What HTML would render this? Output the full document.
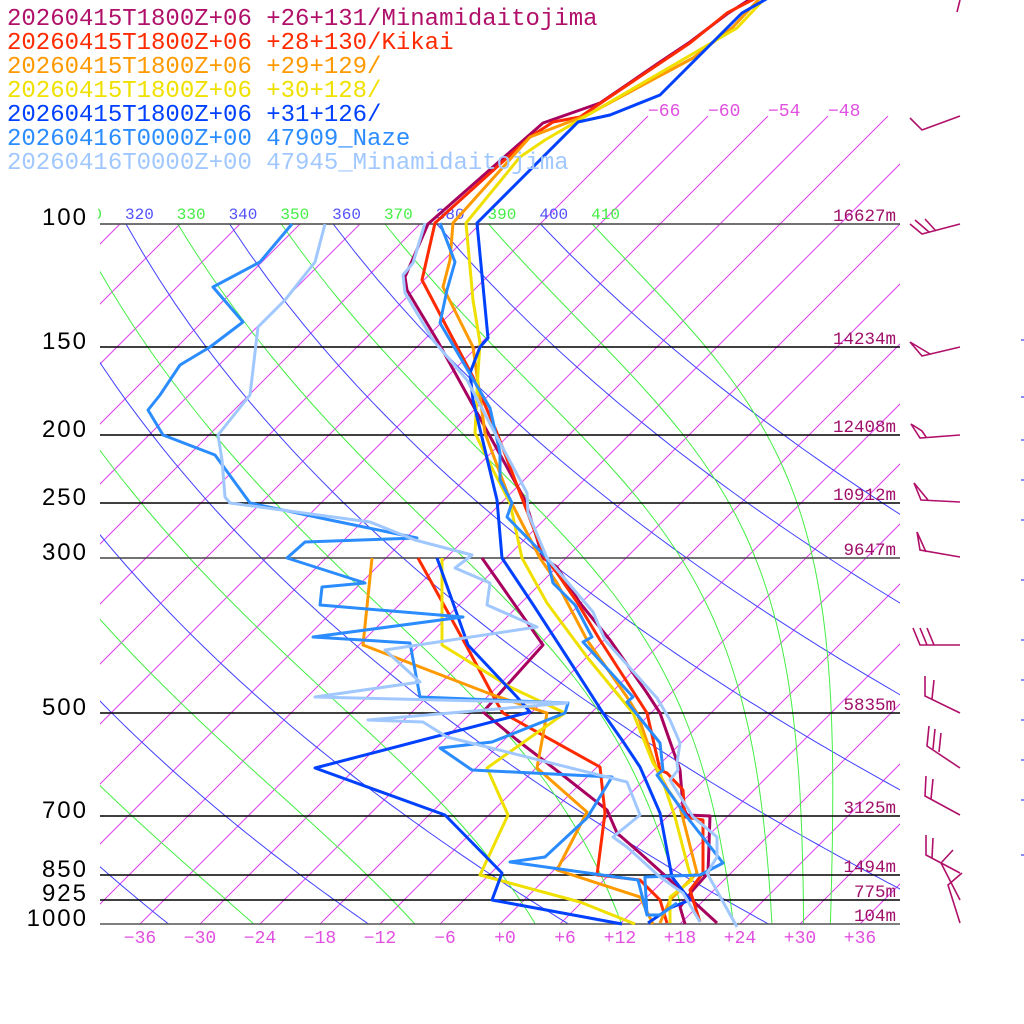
<!DOCTYPE html>
<html><head><meta charset="utf-8"><style>
html,body{margin:0;padding:0;background:#fff;}
svg{display:block;}
.lg{font-family:"Liberation Mono",monospace;font-size:24px;}
.pl{font-family:"Liberation Sans",sans-serif;font-size:24px;fill:#000;letter-spacing:2px;}
.hl{font-family:"Liberation Mono",monospace;font-size:17.5px;fill:#a0106a;}
.tl{font-family:"Liberation Mono",monospace;font-size:18px;fill:#e050e0;}
.th{font-family:"Liberation Mono",monospace;font-size:16px;}
</style></head><body>
<svg id="s" width="1024" height="1024" viewBox="0 0 1024 1024" xmlns="http://www.w3.org/2000/svg">
<defs>
<clipPath id="ca"><rect x="100" y="224" width="800" height="700"/></clipPath>
<clipPath id="ci"><rect x="100" y="116" width="800" height="808"/></clipPath>
<clipPath id="ct"><rect x="98" y="190" width="802" height="40"/></clipPath>
</defs>
<rect width="1024" height="1024" fill="#fff"/>
<g id="iso" clip-path="url(#ci)" stroke="#e040f0" stroke-width="1" fill="none"></g>
<g id="dry" clip-path="url(#ca)" stroke="#4040ff" stroke-width="1" fill="none"></g>
<g id="moist" clip-path="url(#ca)" stroke="#44ee44" stroke-width="1" fill="none"></g>
<g stroke="#000" stroke-width="1.5">
<line x1="100" y1="224" x2="900" y2="224" stroke="#444"/>
<line x1="100" y1="347" x2="900" y2="347"/>
<line x1="100" y1="435" x2="900" y2="435"/>
<line x1="100" y1="503" x2="900" y2="503"/>
<line x1="100" y1="558" x2="900" y2="558" stroke="#444"/>
<line x1="100" y1="713" x2="900" y2="713"/>
<line x1="100" y1="816" x2="900" y2="816"/>
<line x1="100" y1="875" x2="900" y2="875"/>
<line x1="100" y1="900" x2="900" y2="900"/>
<line x1="100" y1="924" x2="900" y2="924" stroke="#555"/>
</g>
<g class="pl" text-anchor="end">
<text x="88" y="225">100</text><text x="88" y="349">150</text><text x="88" y="437">200</text>
<text x="88" y="505">250</text><text x="88" y="560">300</text><text x="88" y="715">500</text>
<text x="88" y="818">700</text><text x="88" y="877">850</text><text x="88" y="901">925</text>
<text x="88" y="926">1000</text>
</g>
<g class="hl" text-anchor="end">
<text x="896" y="221">16627m</text><text x="896" y="344">14234m</text><text x="896" y="432">12408m</text>
<text x="896" y="500">10912m</text><text x="896" y="555">9647m</text><text x="896" y="710">5835m</text>
<text x="896" y="813">3125m</text><text x="896" y="872">1494m</text><text x="896" y="897">775m</text>
<text x="896" y="921">104m</text>
</g>
<g class="tl" text-anchor="middle">
<text x="140" y="943">−36</text><text x="200" y="943">−30</text><text x="260" y="943">−24</text>
<text x="320" y="943">−18</text><text x="380" y="943">−12</text><text x="445" y="943">−6</text>
<text x="505" y="943">+0</text><text x="565" y="943">+6</text><text x="620" y="943">+12</text>
<text x="680" y="943">+18</text><text x="740" y="943">+24</text><text x="800" y="943">+30</text>
<text x="860" y="943">+36</text>
</g>
<g class="tl">
<text x="648" y="116">−66</text><text x="708" y="116">−60</text><text x="768" y="116">−54</text><text x="828" y="116">−48</text>
</g>
<g id="thl" class="th" clip-path="url(#ct)"></g>
<g id="snd" fill="none" stroke-width="3" stroke-linejoin="round"></g>
<g stroke="#b0106a" stroke-width="1.6" fill="none">
<polyline points="960,0 957,12"/>
<polyline points="960,116 922,130 910,118"/>
<polyline points="960,224 922,234 910,224"/>
<polyline points="929,232 915,220"/><polyline points="936,231 925,219"/>
<polyline points="960,347 922,356 910,342 930,354"/>
<polyline points="960,435 920,438 911,424 922,431 926,437"/>
<polyline points="960,502 921,500 914,483 928,500"/>
<polyline points="960,557 920,550 917,532 926,552"/>
<polyline points="960,645 920,645 913,628"/><polyline points="927,645 920,628"/><polyline points="934,645 927,628"/>
<polyline points="960,713 925,696 925,676"/><polyline points="932,699 934,680"/>
<polyline points="960,768 927,746 929,726"/><polyline points="933,749 935,729"/><polyline points="939,752 941,733"/>
<polyline points="960,815 925,796 926,776"/><polyline points="931,799 933,779"/>
<polyline points="960,873 926,855 926,835"/><polyline points="932,858 933,838"/>
<polyline points="941,863 953,850"/><polyline points="941,863 960,900"/>
<polyline points="960,923 948,885 962,873"/>
</g>
<g stroke="#6060ff" stroke-width="1.5">
<line x1="1021" y1="340" x2="1024" y2="340"/><line x1="1021" y1="397" x2="1024" y2="397"/>
<line x1="1021" y1="440" x2="1024" y2="440"/><line x1="1021" y1="480" x2="1024" y2="480"/>
<line x1="1021" y1="520" x2="1024" y2="520"/><line x1="1021" y1="580" x2="1024" y2="580"/>
<line x1="1021" y1="640" x2="1024" y2="640"/><line x1="1021" y1="680" x2="1024" y2="680"/>
<line x1="1021" y1="720" x2="1024" y2="720"/><line x1="1021" y1="760" x2="1024" y2="760"/>
<line x1="1021" y1="800" x2="1024" y2="800"/><line x1="1021" y1="855" x2="1024" y2="855"/>
</g>
<g class="lg">
<text x="7" y="25" fill="#b0106a">20260415T1800Z+06 +26+131/Minamidaitojima</text>
<text x="7" y="49" fill="#ff2a00">20260415T1800Z+06 +28+130/Kikai</text>
<text x="7" y="73" fill="#ff9900">20260415T1800Z+06 +29+129/</text>
<text x="7" y="97" fill="#f0e000">20260415T1800Z+06 +30+128/</text>
<text x="7" y="121" fill="#0040ff">20260415T1800Z+06 +31+126/</text>
<text x="7" y="145" fill="#2a8cff">20260416T0000Z+00 47909_Naze</text>
<text x="7" y="169" fill="#a0c8ff">20260416T0000Z+00 47945_Minamidaitojima</text>
</g>
</svg>
<script>
(function(){
var NS="http://www.w3.org/2000/svg";
function Y(p){return 924-700*Math.log10(1000/p);}
function X(Tc,p){return 500+10*Tc+700*Math.log10(1000/p);}
function add(g,tag,attrs,txt){var e=document.createElementNS(NS,tag);for(var k in attrs)e.setAttribute(k,attrs[k]);if(txt)e.textContent=txt;document.getElementById(g).appendChild(e);return e;}
for(var T=-204;T<=60;T+=6){
  var x1=500+10*T, y1=924, y2=(T>=-66)?116:224, x2=x1+(924-y2);
  add("iso","line",{x1:x1,y1:y1,x2:x2,y2:y2});
}
for(var th=160;th<=400;th+=20){
  var pts=[];
  for(var p=100;p<=1000;p+=10){var Tk=th*Math.pow(p/1000,0.2857);pts.push(X(Tk-273.15,p).toFixed(1)+","+Y(p).toFixed(1));}
  add("dry","polyline",{points:pts.join(" ")});
}
function es(Tc){return 6.112*Math.exp(17.67*Tc/(Tc+243.5));}
function f(T,p){var Tc=T-273.15;var e=es(Tc);if(e>p*0.5)e=p*0.5;var rs=0.622*e/(p-e);
 return (287.04*T+2.501e6*rs)/(1005.7+2.501e6*2.501e6*rs*0.622/(287.04*T*T));}
for(var th=170;th<=410;th+=20){
  var T=th*Math.pow(0.1,0.2857), lp=Math.log(100), lend=Math.log(1000), n=400, h=(lend-lp)/n;
  var pts=[X(T-273.15,100).toFixed(1)+","+Y(100).toFixed(1)];
  for(var i=0;i<n;i++){
    var p=Math.exp(lp);var k1=f(T,p);var p2=Math.exp(lp+h/2);var k2=f(T+h/2*k1,p2);
    var k3=f(T+h/2*k2,p2);var p4=Math.exp(lp+h);var k4=f(T+h*k3,p4);
    T+=h*(k1+2*k2+2*k3+k4)/6;lp+=h;
    if(i%4==3)pts.push(X(T-273.15,Math.exp(lp)).toFixed(1)+","+Y(Math.exp(lp)).toFixed(1));
  }
  add("moist","polyline",{points:pts.join(" ")});
}
for(var th=310;th<=410;th+=10){
  var x=X(th*Math.pow(0.1,0.2857)-273.15,100);
  add("thl","text",{x:x-1,y:219,fill:(th%20==0)?"#5050ff":"#44ee44"},String(th));
}
var S=[
["#a8005e","752,-2 727,14 690,42 660,62 600,103 543,123 428,224 405,277 407,290 437,340 525,500 543,558 557,567 580,603 610,640 647,693 660,713 680,770 683,807 687,815 710,816 708,873 693,890 680,907 685,924"],
["#a8005e","482,558 543,645 483,712 517,740 560,773 607,810 617,833 640,853 670,880 717,923"],
["#ff2a00","756,-2 727,13 690,43 580,117 553,122 530,137 435,223 422,280 473,377 497,433 520,493 545,558 557,573 577,602 600,640 647,713 660,770 667,773 683,790 685,817 703,820 703,873 690,890 700,922"],
["#ff2a00","418,558 467,647 497,703 503,713 600,767 605,813 597,875 640,880 660,900 667,923"],
["#ff9900","760,-2 733,27 693,58 587,115 530,137 453,223 450,260 443,287 473,347 485,433 510,500 540,558 557,583 587,640 627,697 637,713 657,770 668,790 680,807 697,873 670,900 660,923"],
["#ff9900","372,558 363,645 493,695 547,713 537,768 587,812 557,870 640,897 653,924"],
["#f0e000","765,-2 737,28 545,140 520,157 466,223 473,300 480,343 478,373 475,433 493,470 510,503 522,558 547,603 587,657 633,713 653,763 660,773 675,817 688,867 692,880 670,897 670,923"],
["#f0e000","442,558 442,645 510,687 565,713 487,768 508,815 480,875 580,902 635,924"],
["#0040ff","768,-2 742,13 660,95 610,115 578,122 520,180 477,223 488,338 480,347 470,373 473,400 497,500 502,558 532,603 567,657 603,713 622,740 640,767 660,813 672,877 690,900 670,908 648,923"],
["#0040ff","437,558 468,645 517,697 530,712 315,768 445,815 502,873 492,900 622,924"],
["#2a8cff","440,223 455,262 447,290 440,323 490,408 500,453 500,480 512,503 507,517 547,558 553,583 575,605 592,637 583,642 633,697 627,702 660,743 663,770 657,775 687,817 723,863 700,875 645,877 645,880 647,915 660,915 677,903"],
["#2a8cff","292,224 260,262 213,287 243,322 210,347 180,365 160,395 148,410 163,435 215,455 250,503 330,520 417,538 305,542 287,558 365,583 322,587 320,605 463,617 313,637 410,643 420,697 568,703 565,713 492,742 440,748 472,770 612,777 587,818 545,857 510,862 638,880 647,915"],
["#a0c8ff","425,223 413,263 403,275 405,293 433,340 467,380 497,437 527,493 528,513 547,558 593,612 605,640 657,698 670,720 680,743 677,763 678,770 670,780 693,817 717,837 717,857 707,873 737,927"],
["#a0c8ff","325,224 315,262 285,300 258,327 250,395 218,435 222,460 225,497 230,503 370,522 415,540 472,555 455,568 490,583 487,605 537,627 385,650 420,682 315,697 567,703 368,720 423,722 447,737 627,782 640,815 613,837 627,847 660,877 683,893 700,922"]
];
S.forEach(function(s){add("snd","polyline",{points:s[1],stroke:s[0]});});
})();
</script>
</body></html>
